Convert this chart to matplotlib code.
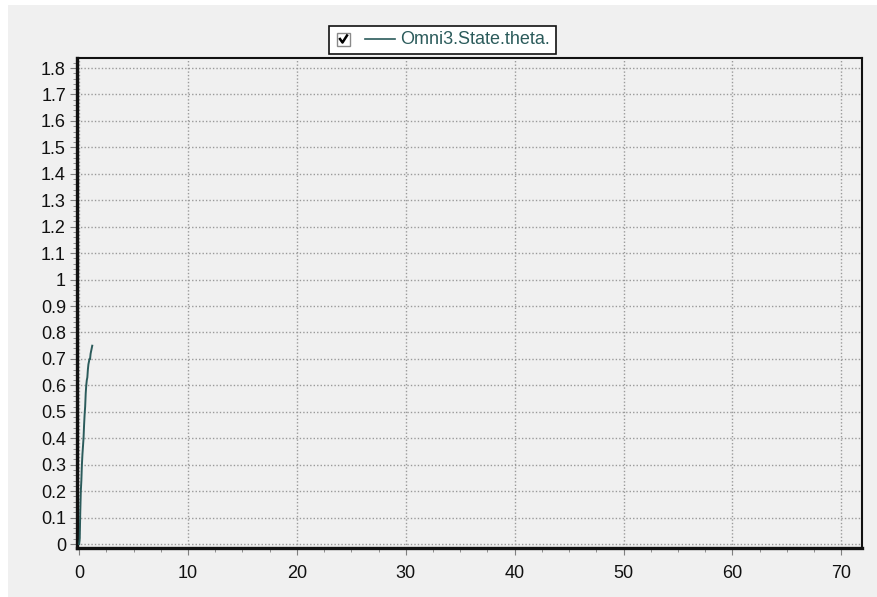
import numpy as np
import matplotlib
matplotlib.use('Agg')
import matplotlib.pyplot as plt
from matplotlib.patches import Rectangle
from matplotlib.lines import Line2D
from matplotlib.ticker import MultipleLocator, FuncFormatter

plt.rcParams['font.family'] = ['Liberation Sans', 'DejaVu Sans']

# theta trace (time in s, angle in rad)
time = [0.00, 0.05, 0.10, 0.15, 0.20, 0.25, 0.30, 0.35, 0.40, 0.45,
        0.50, 0.55, 0.60, 0.65, 0.70, 0.75, 0.80, 0.85, 0.90, 0.95,
        1.00, 1.05, 1.10, 1.15, 1.20]
theta = [0.00, 0.02, 0.12, 0.20, 0.24, 0.30, 0.34, 0.37, 0.40, 0.45,
         0.49, 0.52, 0.57, 0.60, 0.62, 0.63, 0.66, 0.68, 0.69, 0.70,
         0.70, 0.72, 0.73, 0.74, 0.75]
series_name = 'Omni3.State.theta.'

line_color = '#2b5b5b'
bg = '#f0f0f0'

fig = plt.figure(figsize=(8.77, 5.97), dpi=100, facecolor='white')
# panel background with light edge on top/left
fig.patches.append(Rectangle((8 / 877, 0), 1, 1 - 5 / 597, transform=fig.transFigure,
                             facecolor=bg, edgecolor='none', zorder=-5))

ax = fig.add_axes([77 / 877, 1 - 548 / 597, (862 - 77) / 877, (548 - 58) / 597])
ax.set_facecolor(bg)
ax.plot(time, theta, color=line_color, linewidth=1.4, zorder=3)

ax.set_xlim(-0.2, 71.9)
ax.set_ylim(-0.015, 1.838)
ax.xaxis.set_major_locator(MultipleLocator(10))
ax.xaxis.set_minor_locator(MultipleLocator(2.5))
ax.yaxis.set_major_locator(MultipleLocator(0.1))
ax.yaxis.set_minor_locator(MultipleLocator(0.02))
ax.yaxis.set_major_formatter(FuncFormatter(lambda v, p: f'{v:.1f}'.rstrip('0').rstrip('.') if abs(v) > 1e-9 else '0'))

ax.grid(True, which='major', linestyle=(0, (1, 1.5)), color='#9a9a9a', linewidth=1.0)
ax.tick_params(axis='both', which='major', labelsize=13, length=5, color='#808080',
               labelcolor='#111111')
ax.tick_params(axis='both', which='minor', length=3, color='#808080')
ax.tick_params(axis='y', pad=3)
ax.tick_params(axis='x', pad=7)

ax.spines['left'].set_linewidth(2.4)
ax.spines['bottom'].set_linewidth(2.4)
ax.spines['top'].set_linewidth(1.5)
ax.spines['right'].set_linewidth(1.5)
for s in ax.spines.values():
    s.set_color('#111111')


def px(x, y):
    return x / 877, 1 - y / 597


# legend box with checkbox
x0, y0 = px(329, 54)
x1, y1 = px(556, 26)
fig.patches.append(Rectangle((x0, y0), x1 - x0, y1 - y0, transform=fig.transFigure,
                             facecolor='white', edgecolor='#111111', linewidth=1.2, zorder=5))
cx0, cy0 = px(337, 46)
cx1, cy1 = px(350, 33)
fig.patches.append(Rectangle((cx0, cy0), cx1 - cx0, cy1 - cy0, transform=fig.transFigure,
                             facecolor='white', edgecolor='#8a8a8a', linewidth=1.0, zorder=6))
ck = [px(340, 39), px(342.5, 42.5), px(347, 35.5)]
fig.lines.append(Line2D([p[0] for p in ck], [p[1] for p in ck], transform=fig.transFigure,
                        color='black', linewidth=1.8, zorder=7))
la, lb = px(365, 39), px(395, 39)
fig.lines.append(Line2D([la[0], lb[0]], [la[1], lb[1]], transform=fig.transFigure,
                        color=line_color, linewidth=1.2, zorder=7))
tx, ty = px(400, 39.5)
fig.text(tx, ty, series_name, color=line_color, fontsize=13, va='center', ha='left', zorder=7)

fig.savefig('out.png', dpi=100, facecolor=fig.get_facecolor())
